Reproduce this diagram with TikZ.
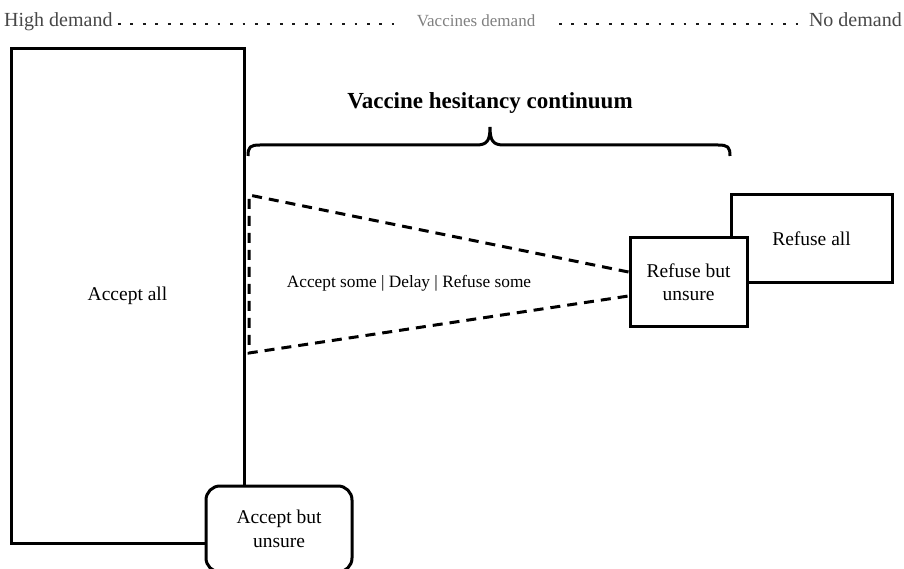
\documentclass[tikz,border=0pt]{standalone}
\usepackage{fontspec}
\setmainfont{Liberation Serif}
\begin{document}
\begin{tikzpicture}[x=1pt,y=-1pt,
  box/.style={draw, line width=3pt, fill=white, inner sep=0pt, align=center,
    font=\fontsize{19.5}{23.5}\selectfont},
  dashline/.style={line width=3pt, dash pattern=on 10pt off 7pt},
  dotline/.style={line width=2.8pt, color=black!90, dash pattern=on 2.8pt off 9.65pt},
  bracepath/.style={line width=3pt},
  endtext/.style={font=\fontsize{20}{24}\selectfont, text=black!72, inner sep=0pt},
  midtext/.style={font=\fontsize{17}{20}\selectfont, text=black!50, inner sep=0pt}
]
\useasboundingbox (0,0) rectangle (904,569);
% top scale
\node[endtext, anchor=base west] (hd) at (4,27) {High demand};
\node[midtext, anchor=base] (vd) at (476,27) {Vaccines demand};
\node[endtext, anchor=base east] (nd) at (902,27) {No demand};
\coordinate (d1a) at (118,24);
\coordinate (d1b) at (394,24);
\coordinate (d2a) at (559,24);
\coordinate (d2b) at (806,24);
\draw[dotline] (d1a) -- (d1b);
\draw[dotline] (d2a) -- (d2b);
% boxes
\node[box, minimum width=233pt, minimum height=494pt] (aa) at (127.5,296) {Accept all};
\node[box, rounded corners=14pt, minimum width=146pt, minimum height=86pt] (abu) at (279,529) {Accept but\\unsure};
\node[box, minimum width=161pt, minimum height=87pt] (ra) at (811.5,238.5) {Refuse all};
\node[box, minimum width=117pt, minimum height=88pt] (rbu) at (688.5,282) {Refuse but\\unsure};
% dashed wedge
\coordinate (tl) at (249,195);
\coordinate (bl) at (249,353);
\draw[dashline] ([yshift=10pt]rbu.west) -- (tl) -- (bl) -- ([yshift=-14pt]rbu.west);
\node[font=\fontsize{17.3}{20}\selectfont, inner sep=0pt] (mid) at (409,283) {Accept some | Delay | Refuse some};
% brace
\coordinate (bL) at (248,156);
\coordinate (bR) at (730,156);
\coordinate (bT) at (490,127);
\draw[bracepath] (bL) .. controls (248,147) and (250,145) .. (260,145) -- (476,145)
  .. controls (487,145) and (490,141) .. (bT)
  .. controls (490,141) and (493,145) .. (504,145) -- (718,145)
  .. controls (728,145) and (730,147) .. (bR);
\node[font=\bfseries\fontsize{23}{27}\selectfont, inner sep=0pt] (title) at (490,103) {Vaccine hesitancy continuum};
\end{tikzpicture}
\end{document}
